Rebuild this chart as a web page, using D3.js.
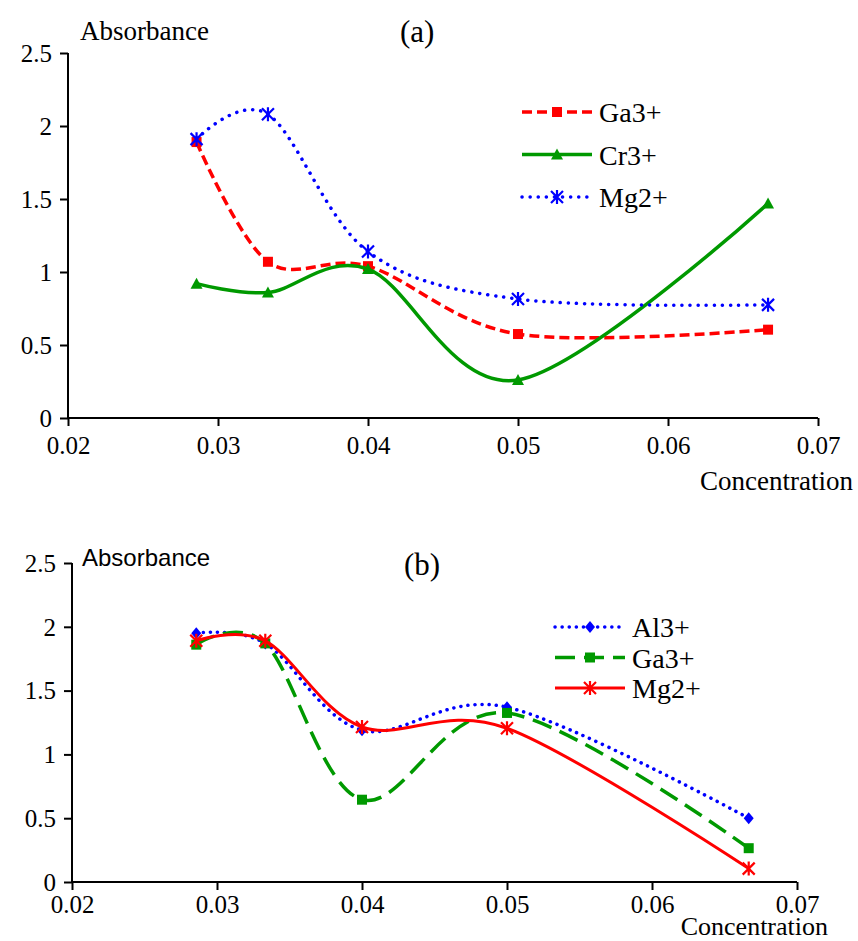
<!DOCTYPE html>
<html lang="en">
<head>
    <meta charset="UTF-8">
    <title>Absorbance vs Concentration</title>
    <script src="https://d3js.org/d3.v7.min.js"></script>
    <style>
        body { margin: 0; background: #fff; }
        .axis path, .axis line { stroke: #000; stroke-width: 2px; }
    </style>
</head>
<body>
<script>
// concentrations (x values shared by both panels)
const conc = [0.02857, 0.03333, 0.04, 0.05, 0.06667];

// panel (a)
const aGa = [1.89, 1.07, 1.04, 0.575, 0.605];
const aCr = [0.92, 0.86, 1.02, 0.26, 1.47];
const aMg = [1.91, 2.08, 1.14, 0.815, 0.775];

// panel (b)
const bAl = [1.95, 1.87, 1.19, 1.37, 0.50];
const bGa = [1.86, 1.87, 0.645, 1.325, 0.265];
const bMg = [1.89, 1.89, 1.215, 1.205, 0.105];

const xTicks = [0.02, 0.03, 0.04, 0.05, 0.06, 0.07];
const yTicks = [0, 0.5, 1, 1.5, 2, 2.5];

const SERIF = '"Liberation Serif", "Times New Roman", serif';
const SANS = '"Liberation Sans", Arial, sans-serif';

const width = 858, height = 941;
const svg = d3.select("body").append("svg")
    .attr("width", width)
    .attr("height", height);

const RED = "#ff0000", GREEN = "#009900", BLUE = "#0000ff";

// marker drawing
function drawMarker(g, type, color, x, y) {
    if (type === "square") {
        g.append("rect").attr("x", x - 5).attr("y", y - 5).attr("width", 10).attr("height", 10).attr("fill", color);
    } else if (type === "triangle") {
        g.append("path").attr("d", `M${x},${y - 6}L${x + 6},${y + 5}L${x - 6},${y + 5}Z`).attr("fill", color);
    } else if (type === "diamond") {
        g.append("path").attr("d", `M${x},${y - 6}L${x + 5},${y}L${x},${y + 6}L${x - 5},${y}Z`).attr("fill", color);
    } else if (type === "star") {
        g.append("path")
            .attr("d", `M${x - 6},${y - 6}L${x + 6},${y + 6}M${x + 6},${y - 6}L${x - 6},${y + 6}M${x},${y - 7}L${x},${y + 7}`)
            .attr("stroke", color).attr("stroke-width", 2.2).attr("fill", "none");
    }
}

function addText(x, y, str, size, family, anchor) {
    return svg.append("text")
        .attr("x", x).attr("y", y)
        .attr("text-anchor", anchor || "start")
        .style("font-family", family)
        .style("font-size", size + "px")
        .attr("fill", "#000")
        .text(str);
}

function drawPanel(p) {
    const x = d3.scaleLinear().domain([0.02, 0.07]).range([p.left, p.right]);
    const y = d3.scaleLinear().domain([0, 2.5]).range([p.bottom, p.top]);

    const xAxis = svg.append("g").attr("class", "axis")
        .attr("transform", `translate(0,${p.bottom})`)
        .call(d3.axisBottom(x).tickValues(xTicks).tickSize(8).tickSizeOuter(0).tickFormat(d => d.toFixed(2)));
    xAxis.selectAll("text")
        .style("font-family", SERIF).style("font-size", "25px")
        .attr("fill", "#000").attr("dy", p.xTickDy);
    xAxis.select(".domain").attr("d", `M${p.left},0H${p.right}`);

    const yAxis = svg.append("g").attr("class", "axis")
        .attr("transform", `translate(${p.left},0)`)
        .call(d3.axisLeft(y).tickValues(yTicks).tickSize(8).tickSizeOuter(0).tickFormat(d => String(d)));
    yAxis.selectAll("text")
        .style("font-family", SERIF).style("font-size", "25px")
        .attr("fill", "#000").attr("x", -16).attr("dy", "0.33em");
    yAxis.select(".domain").attr("d", `M0,${p.top}V${p.bottom}`);

    // axis titles and panel label
    addText(p.yTitleX, p.yTitleY, "Absorbance", p.yTitleSize, p.yTitleFont);
    addText(p.xTitleX, p.xTitleY, "Concentration", p.xTitleSize, SERIF, "end");
    addText(p.labelX, p.labelY, p.label, 31, SERIF);

    const line = d3.line()
        .x((d, i) => x(conc[i]))
        .y(d => y(d))
        .curve(d3.curveCatmullRom.alpha(0));

    p.series.forEach(s => {
        svg.append("path")
            .attr("d", line(s.values))
            .attr("fill", "none")
            .attr("stroke", s.color)
            .attr("stroke-width", s.width)
            .attr("stroke-dasharray", s.dash)
            .attr("stroke-linecap", s.cap);
        const mg = svg.append("g");
        s.values.forEach((v, i) => drawMarker(mg, s.marker, s.color, x(conc[i]), y(v)));
    });

    // legend
    p.series.forEach((s, i) => {
        const ly = p.legendY + i * p.legendGap;
        svg.append("line")
            .attr("x1", p.legendX).attr("x2", p.legendX + 70)
            .attr("y1", ly).attr("y2", ly)
            .attr("stroke", s.color)
            .attr("stroke-width", s.width)
            .attr("stroke-dasharray", s.dash)
            .attr("stroke-linecap", s.cap);
        drawMarker(svg.append("g"), s.marker, s.color, p.legendX + 35, ly);
        addText(p.legendX + 77, ly + 10, s.name, 28, SERIF);
    });
}

drawPanel({
    left: 68, right: 818, top: 53, bottom: 418,
    xTickDy: "1.0em",
    yTitleFont: SERIF, yTitleX: 80, yTitleY: 40, yTitleSize: 27,
    xTitleX: 853, xTitleY: 490, xTitleSize: 27,
    label: "(a)", labelX: 400, labelY: 42,
    legendX: 522, legendY: 112, legendGap: 42.5,
    series: [
        { name: "Ga3+", values: aGa, color: RED, width: 3.5, dash: "10 5", cap: "butt", marker: "square" },
        { name: "Cr3+", values: aCr, color: GREEN, width: 3.5, dash: null, cap: "butt", marker: "triangle" },
        { name: "Mg2+", values: aMg, color: BLUE, width: 3.5, dash: "0.1 8", cap: "round", marker: "star" }
    ]
});

drawPanel({
    left: 72, right: 797, top: 563, bottom: 882,
    xTickDy: "0.8em",
    yTitleFont: SANS, yTitleX: 82, yTitleY: 566, yTitleSize: 24,
    xTitleX: 828, xTitleY: 935, xTitleSize: 26,
    label: "(b)", labelX: 404, labelY: 575,
    legendX: 555, legendY: 627, legendGap: 30.5,
    series: [
        { name: "Al3+", values: bAl, color: BLUE, width: 3.5, dash: "0.1 7", cap: "round", marker: "diamond" },
        { name: "Ga3+", values: bGa, color: GREEN, width: 3.5, dash: "20 9", cap: "butt", marker: "square" },
        { name: "Mg2+", values: bMg, color: RED, width: 3, dash: null, cap: "butt", marker: "star" }
    ]
});
</script>
</body>
</html>
